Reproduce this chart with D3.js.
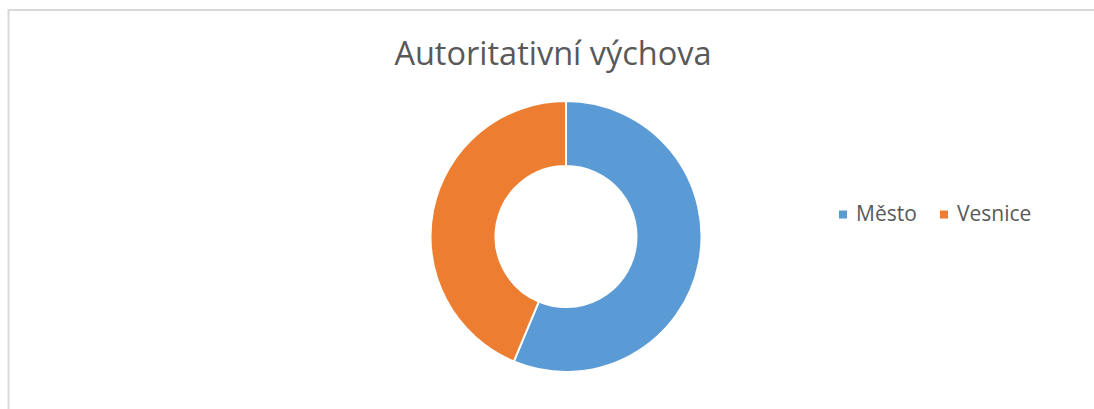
<!DOCTYPE html>
<html lang="cs">
<head>
<meta charset="UTF-8">
<title>Autoritativní výchova</title>
<script src="https://d3js.org/d3.v7.min.js"></script>
<style>
  body, html { margin: 0; padding: 0; background: #fff; overflow: hidden; }
  text { font-family: "Open Sans", "DejaVu Sans", sans-serif; fill: #595959; }
</style>
</head>
<body>
<div id="chart"></div>
<script>
  // data
  const categories = ["Město", "Vesnice"];
  const values = [56.3, 43.7];
  const colors = ["#5B9BD5", "#ED7D31"];
  const title = "Autoritativní výchova";

  const width = 1094, height = 409;
  const svg = d3.select("#chart").append("svg")
      .attr("width", width)
      .attr("height", height);

  // chart frame (right/bottom edges are off-screen)
  svg.append("rect")
      .attr("x", 8.5).attr("y", 10)
      .attr("width", 1090).attr("height", 420)
      .attr("fill", "#fff")
      .attr("stroke", "#d9d9d9")
      .attr("stroke-width", 2);

  svg.append("text")
      .attr("x", 553)
      .attr("y", 64.5)
      .attr("text-anchor", "middle")
      .style("font-size", "32.5px")
      .text(title);

  const cx = 566, cy = 236.5;
  const outerR = 135.5, innerR = 70.5;

  const pie = d3.pie().sort(null).value(d => d);
  const arc = d3.arc().innerRadius(innerR).outerRadius(outerR);
  const color = d3.scaleOrdinal().domain(categories).range(colors);

  const g = svg.append("g").attr("transform", `translate(${cx},${cy})`);
  g.selectAll("path")
      .data(pie(values))
      .join("path")
      .attr("d", arc)
      .attr("fill", (d, i) => color(categories[i]))
      .attr("stroke", "#fff")
      .attr("stroke-width", 2);

  // legend
  const legendX = [839, 940];
  const legend = svg.append("g");
  const items = legend.selectAll("g")
      .data(categories)
      .join("g")
      .attr("transform", (d, i) => `translate(${legendX[i]},210.5)`);
  items.append("rect")
      .attr("width", 8).attr("height", 8)
      .attr("fill", d => color(d));
  items.append("text")
      .attr("x", 17)
      .attr("y", 10)
      .style("font-size", "21px")
      .text(d => d);
</script>
</body>
</html>
